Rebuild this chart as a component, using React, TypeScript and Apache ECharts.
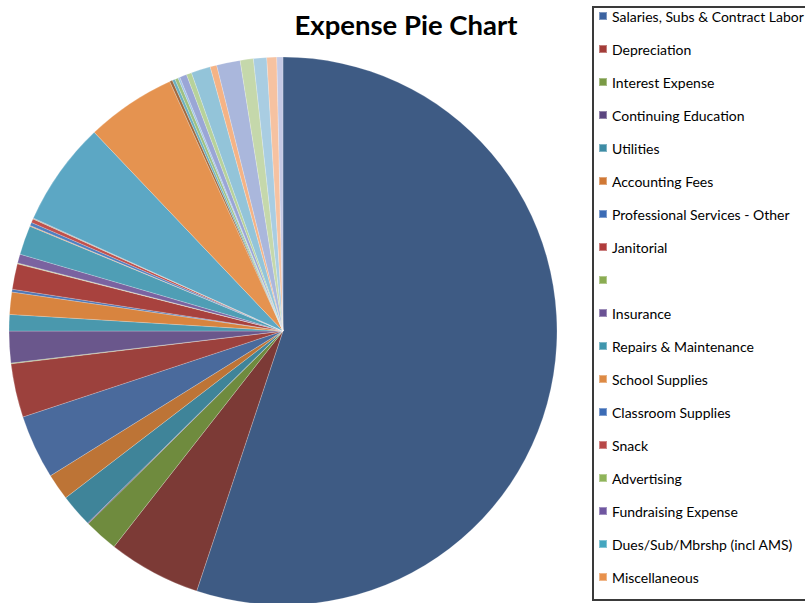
import React, { useEffect, useRef } from "react";
import * as echarts from "echarts";

const chartTitle = "Expense Pie Chart";

// Named categories shown in the legend (first 18 slices)
const legendNames = [
  "Salaries, Subs & Contract Labor",
  "Depreciation",
  "Interest Expense",
  "Continuing Education",
  "Utilities",
  "Accounting Fees",
  "Professional Services - Other",
  "Janitorial",
  " ",
  "Insurance",
  "Repairs & Maintenance",
  "School Supplies",
  "Classroom Supplies",
  "Snack",
  "Advertising",
  "Fundraising Expense",
  "Dues/Sub/Mbrshp (incl AMS)",
  "Miscellaneous",
];

// Further slices whose names are cut off from the legend
const hiddenNames = [
  "Expense 19", "Expense 20", "Expense 21", "Expense 22", "Expense 23",
  "Expense 24", "Expense 25", "Expense 26", "Expense 27", "Expense 28",
  "Expense 29", "Expense 30", "Expense 31", "Expense 32", "Expense 33",
  "Expense 34", "Expense 35", "Expense 36", "Expense 37",
];

// Slice sizes (share of the pie)
const legendValues = [
  198.2, 19.7, 7.2, 0.2, 7.0, 5.6, 13.6, 11.4, 0.15, 6.7,
  3.5, 4.7, 0.6, 5.4, 0.2, 1.9, 6.2, 0.15,
];
const hiddenValues = [
  0.7, 0.8, 0.1, 0.1, 22.1, 19.1, 0.6, 0.6, 0.7, 0.4,
  1.5, 1.1, 4.1, 1.4, 5.0, 2.8, 2.8, 2.1, 1.3,
];

const legendSliceColors = [
  "#3e5b84", "#7c3a36", "#6f8b3e", "#5f4a7e", "#3f8499", "#bd7436",
  "#4a6a9c", "#9c413d", "#8aa856", "#6a578c", "#4a98ad", "#d8843f",
  "#4f77b5", "#a8423e", "#b8d08c", "#7a63a0", "#4f9eb5", "#e8934f",
];
const hiddenSliceColors = [
  "#4f7fc0", "#c0504d", "#9bbb59", "#8064a2", "#5ca7c4", "#e59350",
  "#a0693f", "#6bb0c0", "#9dc183", "#9dc3e6", "#9aa6d6", "#b7d29b",
  "#93c4d9", "#f5b385", "#aab7dc", "#c5d8ab", "#a9cde2", "#f6c2a1",
  "#c4c9e5",
];
const legendIconColors = [
  "#3b62a0", "#a33c38", "#7a9a45", "#5b4680", "#3d8ca5", "#d07835",
  "#3b6bb5", "#b03c3c", "#8aac52", "#6a5294", "#3f96ad", "#dd8a44",
  "#3b6bb5", "#b84848", "#8fb45a", "#6f56a0", "#44a6bf", "#e8914c",
];

export default function App() {
  const ref = useRef<HTMLDivElement>(null);
  useEffect(() => {
    if (!ref.current) return;
    const chart = echarts.init(ref.current, undefined, { renderer: "svg" });
    const names = legendNames.concat(hiddenNames);
    const values = legendValues.concat(hiddenValues);
    const colors = legendSliceColors.concat(hiddenSliceColors);
    const data = names.map((n, i) => ({
      name: n,
      value: values[i],
      itemStyle: { color: colors[i] },
    }));
    chart.setOption({
      animation: false,
      backgroundColor: "#ffffff",
      legend: {
        orient: "vertical",
        left: 598,
        top: 8,
        padding: 0,
        itemWidth: 8,
        itemHeight: 8,
        itemGap: 17,
        icon: "rect",
        selectedMode: false,
        textStyle: {
          fontFamily: "Lato",
          fontSize: 14,
          lineHeight: 16,
          color: "#000000",
        },
        data: legendNames.map((n, i) => ({
          name: n,
          itemStyle: { color: legendIconColors[i] },
        })),
      },
      graphic: [
        {
          type: "rect",
          shape: { x: 593, y: 7, width: 230, height: 593 },
          style: { fill: "none", stroke: "#3a3a3a", lineWidth: 2 },
          z: 100,
        },
        {
          type: "text",
          x: 406,
          y: 24,
          style: {
            text: chartTitle,
            fontFamily: "Lato",
            fontWeight: "bold",
            fontSize: 27.5,
            fill: "#000000",
            textAlign: "center",
            textVerticalAlign: "middle",
          },
        },
      ],
      series: [
        {
          type: "pie",
          center: [283, 331],
          radius: 274,
          startAngle: 90,
          clockwise: true,
          label: { show: false },
          labelLine: { show: false },
          silent: true,
          itemStyle: {
            borderColor: "rgba(255,255,255,0.35)",
            borderWidth: 0.6,
          },
          data,
        },
      ],
    });
    return () => chart.dispose();
  }, []);
  return (
    <div
      ref={ref}
      style={{ position: "absolute", left: 0, top: 0, width: 805, height: 603 }}
    />
  );
}
